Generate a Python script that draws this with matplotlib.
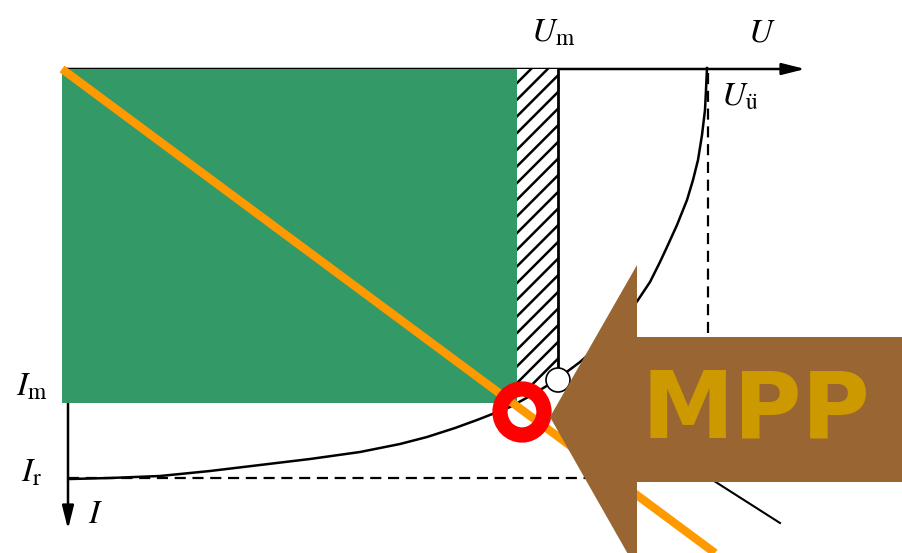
import numpy as np
import matplotlib
matplotlib.use("Agg")
import matplotlib.pyplot as plt
from matplotlib.patches import Rectangle, Polygon, Ellipse, Circle

plt.rcParams["mathtext.fontset"] = "stix"
plt.rcParams["hatch.linewidth"] = 1.8

# I-U curve (pixel coords, I axis pointing down)
curve_x = [70, 110, 160, 210, 260, 310, 360, 400, 427, 455, 477, 495, 510, 530, 545,
           560, 580, 595, 610, 625, 638, 650, 660, 667, 677, 687, 693, 698, 702, 705, 706, 707]
curve_y = [479, 478, 476, 471, 465, 459, 452, 444, 437, 428, 420, 413, 407, 396, 387,
           377, 362, 349, 335, 318, 300, 282, 262, 247, 225, 200, 180, 160, 135, 110, 90, 68]

origin = (68, 69)
U_oc, I_sc = 708, 478
U_m, I_m = 517, 403
hatch_right = 558
load_end = (780, 523)
orange_line = ([62, 715], [69, 553])
mpp_ring = (522, 412)

labels = [
    (r"$U_{\mathrm{m}}$", 553, 42),
    (r"$U$", 762, 42),
    (r"$U_{\mathrm{\ddot{u}}}$", 740, 106),
    (r"$I_{\mathrm{m}}$", 32, 395),
    (r"$I_{\mathrm{r}}$", 32, 482),
    (r"$I$", 96, 523),
]

fig = plt.figure(figsize=(9.02, 5.53), dpi=100)
ax = fig.add_axes([0, 0, 1, 1])
ax.set_xlim(0, 902)
ax.set_ylim(553, 0)
ax.axis("off")

# load line through origin (mostly hidden)
ax.plot([origin[0], load_end[0]], [origin[1], load_end[1]], color="black", lw=1.5, zorder=1)

# axes with arrows
ax.annotate("", xy=(808, origin[1]), xytext=(origin[0] - 4, origin[1]),
            arrowprops=dict(arrowstyle="-|>,head_length=1.4,head_width=0.35", color="black", lw=1.8),
            zorder=2)
ax.annotate("", xy=(origin[0], 532), xytext=(origin[0], origin[1]),
            arrowprops=dict(arrowstyle="-|>,head_length=1.4,head_width=0.35", color="black", lw=1.8),
            zorder=2)

# dashed guides
ax.plot([U_oc, U_oc], [origin[1] + 4, 345], color="black", lw=1.6, ls=(0, (5, 3)), zorder=2)
ax.plot([origin[0], 620], [I_sc, I_sc], color="black", lw=1.6, ls=(0, (5, 3)), zorder=2)

# hatched strip and its border
ax.add_patch(Rectangle((U_m, origin[1]), hatch_right - U_m, 385 - origin[1],
                       facecolor="white", edgecolor="black", hatch="//", lw=0, zorder=2))
ax.plot([hatch_right, hatch_right], [origin[1], 380], color="black", lw=2, zorder=3)

# curve
ax.plot(curve_x, curve_y, color="black", lw=1.8, zorder=3)
ax.add_patch(Circle((558, 380), 12, facecolor="white", edgecolor="black", lw=1.2, zorder=3))

# green power rectangle
ax.add_patch(Rectangle((62, origin[1]), U_m - 62, I_m - origin[1],
                       facecolor="#339966", edgecolor="none", zorder=4))

# orange line
ax.plot(orange_line[0], orange_line[1], color="#FF9900", lw=6, zorder=5, solid_capstyle="butt")

# red ring at MPP
ax.add_patch(Ellipse(mpp_ring, 44, 46, facecolor="none", edgecolor="#FF0000", lw=11, zorder=6))

# brown block arrow
arrow_pts = [(550, 417), (637, 265), (637, 337), (902, 337), (902, 482),
             (637, 482), (637, 570)]
ax.add_patch(Polygon(arrow_pts, closed=True, facecolor="#996633", edgecolor="none", zorder=7))
ax.text(756, 412, "MPP", color="#CC9900", fontsize=67, fontweight="bold",
        family="DejaVu Sans", ha="center", va="center", zorder=8)

for txt, x, y in labels:
    ax.text(x, y, txt, fontsize=24, ha="center", va="baseline", zorder=8)

fig.savefig("out.png", dpi=100)
